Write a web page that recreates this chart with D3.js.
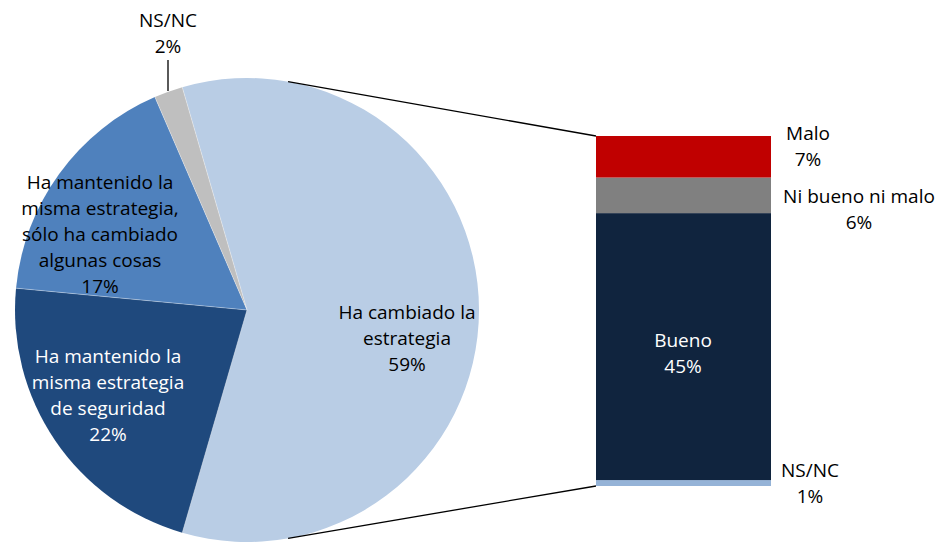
<!DOCTYPE html>
<html><head><meta charset="utf-8">
<script src="https://cdn.jsdelivr.net/npm/d3@7"></script>
<style>body{margin:0;background:#fff}svg{display:block}text{font-family:"Open Sans",Lato,sans-serif;font-size:19px}</style>
</head><body><svg id="c" width="939" height="542"></svg>
<script>
// Data
const pieCategories = ["Ha cambiado la estrategia", "Ha mantenido la misma estrategia de seguridad", "Ha mantenido la misma estrategia, sólo ha cambiado algunas cosas", "NS/NC"];
const pieValues = [59, 22, 17, 2];
const barCategories = ["NS/NC", "Bueno", "Ni bueno ni malo", "Malo"];
const barValues = [1, 45, 6, 7];

// Styles / layout
const pieColors = ["#B9CDE5", "#1F497D", "#4F81BD", "#BFBFBF"];
const barColors = ["#95B3D7", "#10243E", "#808080", "#C00000"];
const pieLabelLines = [["Ha cambiado la","estrategia"],["Ha mantenido la","misma estrategia","de seguridad"],["Ha mantenido la","misma estrategia,","sólo ha cambiado","algunas cosas"],["NS/NC"]];
const pieLabelPos = [[407,312],[108,356],[100,182],[168,20]];
const pieLabelColor = ["#000","#fff","#000","#000"];
const barLabelLines = [["NS/NC"],["Bueno"],["Ni bueno ni malo"],["Malo"]];
const barLabelPos = [[810,470],[683,340],[859,196],[808,133]];
const barLabelColor = ["#000","#fff","#000","#000"];
const lineH = 26;

const svg = d3.select("#c");
const cx = 247, cy = 310, R = 232;
const total = d3.sum(pieValues);
const start = Math.PI/2 - (pieValues[0]/total)*Math.PI;
const pie = d3.pie().sort(null).startAngle(start).endAngle(start + 2*Math.PI);
const arcs = pie(pieValues);
const arc = d3.arc().innerRadius(0).outerRadius(R);
const g = svg.append("g").attr("transform", `translate(${cx},${cy})`);
g.selectAll("path").data(arcs).enter().append("path")
  .attr("d", arc).attr("fill", (d,i)=>pieColors[i]);
g.selectAll("line.sep").data(arcs).enter().append("line")
  .attr("x1",0).attr("y1",0)
  .attr("x2",d=>R*Math.sin(d.startAngle)).attr("y2",d=>-R*Math.cos(d.startAngle))
  .attr("stroke","#fff").attr("stroke-width",0.6).attr("opacity",0.6);

// Bar
const barX = 596, barW = 175;
const y = d3.scaleLinear().domain([0, d3.sum(barValues)]).range([486, 136]);
let cum = 0;
const stacks = barValues.map(v => { const s = {y0: cum, y1: cum + v}; cum += v; return s; });
svg.selectAll("rect.bar").data(stacks).enter().append("rect")
  .attr("x", barX).attr("width", barW)
  .attr("y", d=>y(d.y1)).attr("height", d=>y(d.y0)-y(d.y1))
  .attr("fill", (d,i)=>barColors[i]);

// Connector lines
const ca = 10.2*Math.PI/180;
svg.append("line").attr("x1", cx+R*Math.sin(ca)).attr("y1", cy-R*Math.cos(ca))
  .attr("x2", barX).attr("y2", y(d3.sum(barValues))).attr("stroke","#000").attr("stroke-width",1.3);
svg.append("line").attr("x1", cx+R*Math.sin(ca)).attr("y1", cy+R*Math.cos(ca))
  .attr("x2", barX).attr("y2", y(0)).attr("stroke","#000").attr("stroke-width",1.3);

// NS/NC leader
svg.append("line").attr("x1",168).attr("x2",168).attr("y1",60).attr("y2",cy-R*Math.cos(arcs[3].startAngle+0.06)-1)
  .attr("stroke","#000").attr("stroke-width",1.3);

function label(lines, pct, pos, color){
  const t = svg.append("text").attr("text-anchor","middle").attr("fill",color);
  lines.concat([pct]).forEach((s,k)=>{
    t.append("tspan").attr("x",pos[0]).attr("y",pos[1]+k*lineH).attr("dy","0.35em").text(s);
  });
}
pieValues.forEach((v,i)=>label(pieLabelLines[i], v+"%", pieLabelPos[i], pieLabelColor[i]));
barValues.forEach((v,i)=>label(barLabelLines[i], v+"%", barLabelPos[i], barLabelColor[i]));
</script></body></html>
